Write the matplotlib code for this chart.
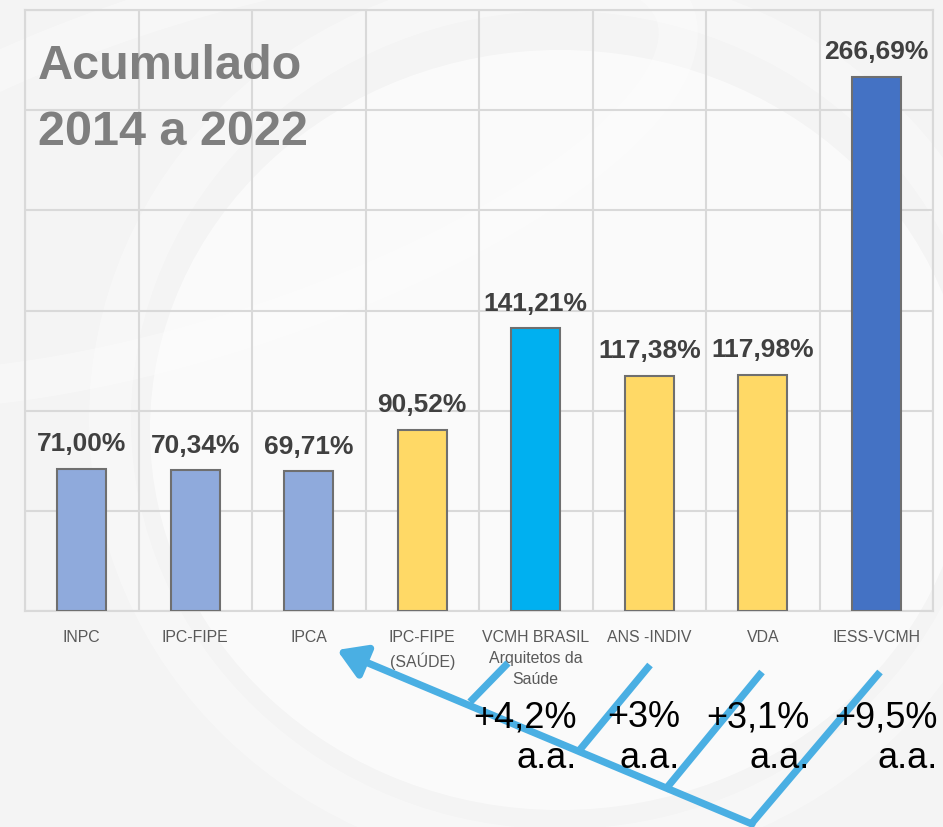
import matplotlib
matplotlib.use("Agg")
import matplotlib.pyplot as plt
from matplotlib import font_manager
from matplotlib.patches import FancyArrowPatch, Ellipse
from matplotlib.lines import Line2D
import numpy as np

# ---- data ----
categories = ["INPC", "IPC-FIPE", "IPCA", "IPC-FIPE\n(SAÚDE)",
              "VCMH BRASIL\nArquitetos da\nSaúde", "ANS -INDIV", "VDA", "IESS-VCMH"]
values = [71.00, 70.34, 69.71, 90.52, 141.21, 117.38, 117.98, 266.69]
value_labels = ["71,00%", "70,34%", "69,71%", "90,52%", "141,21%", "117,38%", "117,98%", "266,69%"]
bar_colors = ["#8FAADC", "#8FAADC", "#8FAADC", "#FFD966", "#00B0F0", "#FFD966", "#FFD966", "#4472C4"]
growth_labels = ["+4,2%\na.a.", "+3%\na.a.", "+3,1%\na.a.", "+9,5%\na.a."]
title_text = "Acumulado\n2014 a 2022"

names = {f.name for f in font_manager.fontManager.ttflist}
narrow = "Liberation Sans Narrow" if "Liberation Sans Narrow" in names else "Liberation Sans"
main_font = "Liberation Sans"

W, H = 943, 827
fig = plt.figure(figsize=(W / 100, H / 100), dpi=100)
fig.patch.set_facecolor("#f4f4f4")

def px(x, y):
    return (x / W, 1 - y / H)

# background swooshes (decorative, subtle)
bg = fig.add_axes([0, 0, 1, 1], zorder=-5)
bg.set_xlim(0, W); bg.set_ylim(H, 0); bg.axis("off")
bg.add_patch(Ellipse((560, 430), 820, 760, fill=True, fc="white", ec="none", alpha=0.6))
bg.add_patch(Ellipse((560, 420), 900, 860, fill=False, ec="white", lw=30, alpha=0.35))
bg.add_patch(Ellipse((200, 170), 1000, 330, angle=-18, fill=False, ec="white", lw=28, alpha=0.35))

left, right, top, bottom = 25, 933, 10, 611
ax = fig.add_axes([left / W, 1 - bottom / H, (right - left) / W, (bottom - top) / H])
ax.set_facecolor("none")
x = np.arange(len(categories))
ax.bar(x, values, width=0.43, color=bar_colors, edgecolor="#6f6f6f", linewidth=1.5, zorder=3)
ax.set_xlim(-0.5, len(categories) - 0.5)
ax.set_ylim(0, 300)
ax.set_yticks(np.arange(0, 301, 50))
ax.set_yticklabels([])
ax.tick_params(axis="y", length=0)
ax.set_xticks(x)
ax.set_xticklabels(categories, fontfamily=narrow, fontsize=11.4, color="#595959",
                   linespacing=1.5, va="top")
ax.tick_params(axis="x", length=0, pad=14)
ax.set_xticks(np.arange(-0.5, len(categories), 1.0), minor=True)
ax.tick_params(axis="x", which="minor", length=0)
ax.grid(axis="y", which="major", color="#d9d9d9", lw=1.5, zorder=0)
ax.grid(axis="x", which="minor", color="#d9d9d9", lw=1.5, zorder=0)
for s in ax.spines.values():
    s.set_color("#d9d9d9"); s.set_linewidth(1.5)

for xi, v, lab in zip(x, values, value_labels):
    ax.annotate(lab, (xi, v), xytext=(0, 12.5), textcoords="offset points",
                ha="center", va="baseline", fontsize=19, fontweight="bold",
                color="#404040", fontfamily=main_font, zorder=4)

fig.text(*px(38, 145), title_text, fontsize=35, fontweight="bold", color="#7f7f7f",
         fontfamily=main_font, ha="left", va="baseline", linespacing=1.6)

# decorative arrow annotation
blue = "#4AAFE3"
lw = 5.2
main_start, main_end = (752, 824), (337, 650)
arr = FancyArrowPatch(px(*main_start), px(*main_end), transform=fig.transFigure,
                      arrowstyle="-|>,head_length=13,head_width=8", mutation_scale=1.3,
                      color=blue, lw=lw, shrinkA=0, shrinkB=0, zorder=10)
fig.add_artist(arr)
branches = [((470, 702), (508, 663)), ((578, 752), (650, 665)),
            ((665, 790), (762, 672)), ((752, 823), (880, 672))]
for (a, b) in branches:
    fig.add_artist(Line2D([a[0] / W, b[0] / W], [1 - a[1] / H, 1 - b[1] / H],
                          transform=fig.transFigure, color=blue, lw=lw,
                          solid_capstyle="butt", zorder=10))

right_edges = [577, 680, 810, 938]
for r, g in zip(right_edges, growth_labels):
    fig.text(*px(r, 768), g, fontsize=26, color="black", fontfamily=main_font,
             ha="right", va="baseline", ma="right", linespacing=1.22, zorder=11)

fig.savefig("out.png", dpi=100, facecolor=fig.get_facecolor())
